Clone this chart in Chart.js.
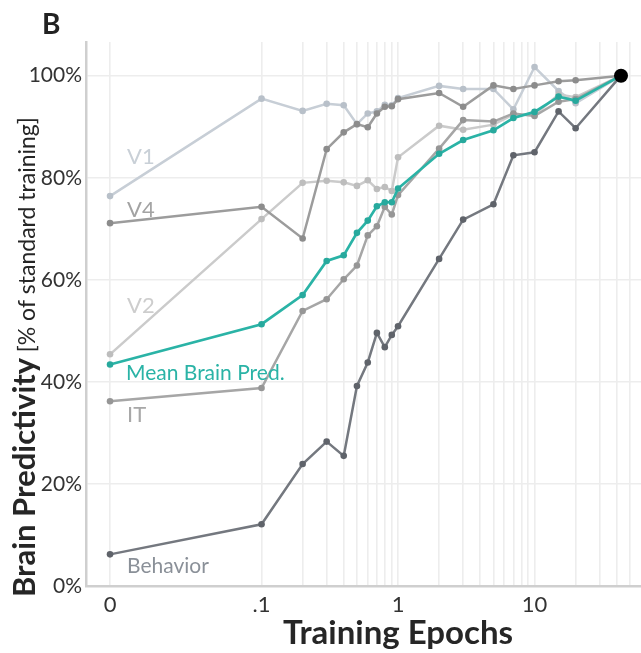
<!DOCTYPE html>
<html>
<head>
<meta charset="utf-8">
<script src="https://cdn.jsdelivr.net/npm/chart.js@4.4.1/dist/chart.umd.min.js"></script>
<style>
  html, body { margin: 0; padding: 0; background: #ffffff; overflow: hidden; }
  #wrap { width: 641px; height: 653px; position: relative; overflow: hidden; }
  canvas { display: block; }
</style>
</head>
<body>
<div id="wrap"><canvas id="c" width="641" height="653"></canvas></div>
<script>
// ---- data ----
const epochs    = [0, 0.1, 0.2, 0.3, 0.4, 0.5, 0.6, 0.7, 0.8, 0.9, 1, 2, 3, 5, 7, 10, 15, 20, 43];
const v1        = [76.4, 95.5, 93.1, 94.5, 94.2, 90.5, 92.6, 93.0, 94.3, 94.2, 95.6, 98.0, 97.4, 97.4, 93.4, 101.7, 97.0, 94.6, 100];
const v4        = [71.1, 74.3, 68.1, 85.6, 88.9, 90.5, 89.9, 92.6, 93.9, 94.0, 95.4, 96.6, 93.9, 98.1, 97.4, 98.1, 98.9, 99.1, 100];
const v2        = [45.4, 71.9, 79.0, 79.4, 79.1, 78.4, 79.5, 77.8, 78.2, 77.4, 84.0, 90.2, 89.4, 90.4, 92.4, 92.3, 96.3, 95.8, 100];
const it        = [36.2, 38.8, 53.9, 56.2, 60.1, 62.8, 68.7, 70.5, 74.3, 72.8, 76.6, 85.7, 91.3, 91.0, 92.6, 92.1, 94.9, 95.4, 100];
const behavior  = [6.2, 12.1, 23.9, 28.3, 25.5, 39.2, 43.8, 49.6, 46.8, 49.2, 50.9, 64.1, 71.8, 74.8, 84.4, 85.0, 93.0, 89.7, 100];
const meanBrain = [43.4, 51.3, 57.0, 63.7, 64.8, 69.2, 71.6, 74.4, 75.2, 75.2, 77.9, 84.7, 87.4, 89.3, 91.7, 92.9, 95.9, 95.1, 100];
const finalPoint = [{ epoch: 43, value: 100 }];

const xTickLabels = ['0', '.1', '1', '10'];
const xTickEpochs = [0, 0.1, 1, 10];
const yTickValues = [0, 20, 40, 60, 80, 100];
const gridEpochs  = [0, 0.1, 0.2, 0.3, 0.4, 0.5, 0.6, 0.7, 0.8, 0.9, 1, 2, 3, 4, 5, 6, 7, 8, 9, 10, 20, 30, 40, 50];

// ---- axis transform: log10 epochs, with epoch 0 placed left of .1 ----
const ZERO_POS = -2.11;
const tx = e => (e === 0 ? ZERO_POS : Math.log10(e));
const pts = arr => epochs.map((e, i) => ({ x: tx(e), y: arr[i] }));

const FONT = 'Lato, "Open Sans", sans-serif';

function ds(label, arr, line, point, width, order, r) {
  return {
    label, data: pts(arr), borderColor: line, backgroundColor: point,
    pointBackgroundColor: point, pointBorderWidth: 0, pointRadius: r,
    borderWidth: width, tension: 0, order
  };
}

const textPlugin = {
  id: 'texts',
  afterDraw(chart) {
    const ctx = chart.ctx;
    ctx.save();
    ctx.textBaseline = 'alphabetic';
    ctx.textAlign = 'left';
    // panel letter
    ctx.fillStyle = '#222222';
    ctx.font = 'bold 28px ' + FONT;
    ctx.fillText('B', 42, 34);
    // series labels
    const lab = (t, x, y, c, s) => { ctx.fillStyle = c; ctx.font = s + 'px ' + FONT; ctx.fillText(t, x, y); };
    lab('V1', 127, 164, '#c9d0d7', 22);
    lab('V4', 127, 217, '#a3a3a3', 22);
    lab('V2', 127, 313, '#cdcdcd', 22);
    lab('Mean Brain Pred.', 126, 380, '#2ab3a6', 21);
    lab('IT', 127, 422, '#a8a8a8', 22);
    lab('Behavior', 127, 573, '#8a9098', 21);
    // x title
    ctx.fillStyle = '#262626';
    ctx.font = 'bold 33px ' + FONT;
    ctx.textAlign = 'center';
    ctx.fillText('Training Epochs', 398, 644);
    // y title (rotated, mixed weight)
    ctx.translate(35, 597);
    ctx.rotate(-Math.PI / 2);
    ctx.textAlign = 'left';
    ctx.font = 'bold 31px ' + FONT;
    const bold = 'Brain Predictivity ';
    ctx.fillText(bold, 0, 0);
    const w = ctx.measureText(bold).width;
    ctx.font = '23px ' + FONT;
    ctx.fillText('[% of standard training]', w - 2, 0);
    ctx.restore();
  }
};

new Chart(document.getElementById('c'), {
  type: 'line',
  data: {
    datasets: [
      { label: 'Standard', data: finalPoint.map(p => ({ x: tx(p.epoch), y: p.value })),
        pointRadius: 7, pointBackgroundColor: '#000000', pointBorderWidth: 0, showLine: false, order: 0 },
      ds('Mean Brain Pred.', meanBrain, '#2ab3a6', '#27a99d', 2.7, 1, 3.3),
      ds('Behavior', behavior, '#74787f', '#5f636a', 2.5, 2, 3.3),
      ds('IT', it, '#a6a6a6', '#969696', 2.5, 3, 3.3),
      ds('V4', v4, '#9c9c9c', '#8c8c8c', 2.5, 4, 3.3),
      ds('V2', v2, '#cbcbcb', '#bdbdbd', 2.5, 5, 3.3),
      ds('V1', v1, '#c7ced6', '#b8c0c9', 2.5, 6, 3.3)
    ]
  },
  options: {
    responsive: false,
    devicePixelRatio: 1,
    animation: false,
    layout: { autoPadding: false, padding: { left: 0, right: 0, top: 42, bottom: 0 } },
    plugins: { legend: { display: false }, tooltip: { enabled: false } },
    scales: {
      x: {
        type: 'linear',
        min: -2.286, max: 1.78,
        afterBuildTicks: s => { s.ticks = gridEpochs.map(e => ({ value: tx(e) })); },
        afterFit: s => { s.height = 67; s.paddingLeft = 0; s.paddingRight = 0; },
        ticks: {
          autoSkip: false, maxRotation: 0, padding: 6,
          color: '#333333', font: { family: FONT, size: 22 },
          callback: v => {
            const k = xTickEpochs.findIndex(e => Math.abs(tx(e) - v) < 1e-6);
            return k >= 0 ? xTickLabels[k] : '';
          }
        },
        grid: { color: '#ededed', lineWidth: 1.6, drawTicks: false },
        border: { color: '#cfcfcf', width: 2.5 }
      },
      y: {
        type: 'linear',
        min: 0, max: 106.6,
        afterBuildTicks: s => { s.ticks = yTickValues.map(v => ({ value: v })); },
        afterFit: s => { s.width = 86; s.paddingTop = 0; s.paddingBottom = 0; },
        ticks: {
          padding: 4, color: '#333333', font: { family: FONT, size: 21 },
          callback: v => v + '%'
        },
        grid: { color: '#ededed', lineWidth: 1.6, drawTicks: false },
        border: { color: '#cfcfcf', width: 2.5 }
      }
    }
  },
  plugins: [textPlugin]
});
</script>
</body>
</html>
